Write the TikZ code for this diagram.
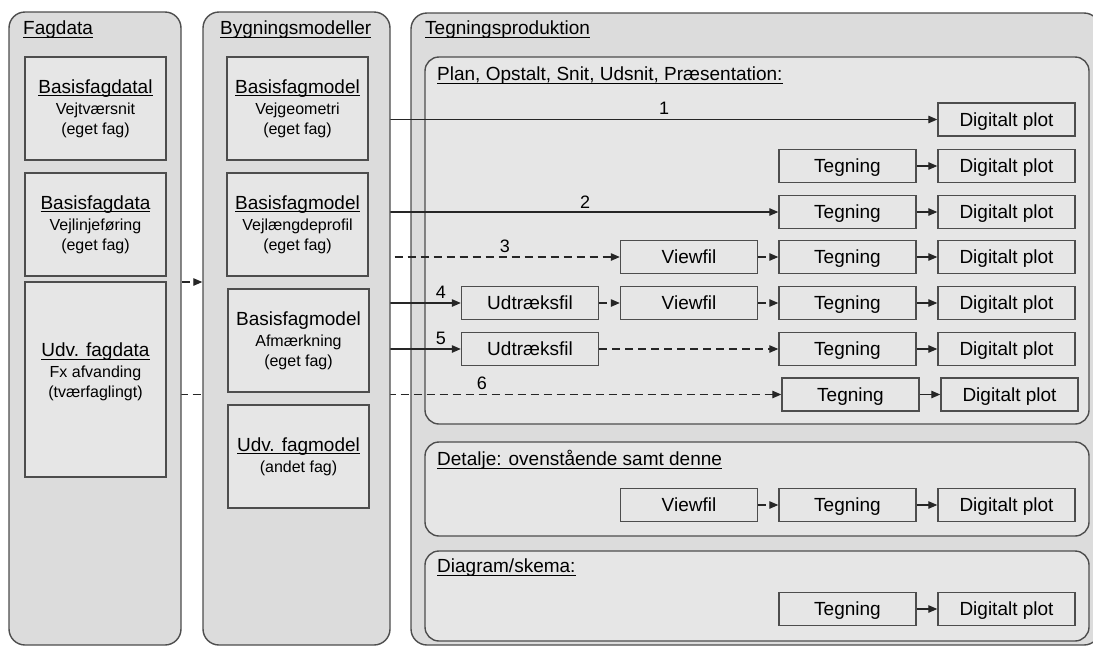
\documentclass[tikz,border=0pt]{standalone}
\usepackage{fontspec}
\setmainfont{Liberation Sans}
\usetikzlibrary{arrows.meta}
\pgfdeclarelayer{bg}
\pgfdeclarelayer{conn}
\pgfsetlayers{bg,conn,main}
\definecolor{panelfill}{HTML}{DCDCDC}
\definecolor{boxfill}{HTML}{E6E6E6}
\definecolor{edge}{HTML}{4D4D4D}
\newcommand{\myul}[1]{\leavevmode\setbox0=\hbox{#1}\rlap{\rule[-3pt]{\wd0}{1.1pt}}\box0}
\newcommand{\ttl}[1]{{\fontsize{19}{22}\selectfont\myul{#1}}}
\newcommand{\ttlplain}[1]{{\fontsize{19}{22}\selectfont #1}}
\tikzset{
 panel/.style={draw=edge, line width=1.4pt, fill=panelfill, rounded corners=16pt, inner sep=0pt},
 subpanel/.style={draw=edge, line width=1.4pt, fill=boxfill, rounded corners=14pt, inner sep=0pt},
 srcbox/.style={draw=edge, line width=1.4pt, fill=boxfill, inner sep=0pt, minimum width=141pt, minimum height=103pt, align=center, font=\fontsize{16}{20}\selectfont},
 srctext/.style={inner sep=0pt, align=center, font=\fontsize{16}{20}\selectfont},
 stepbox/.style={draw=edge, line width=1.4pt, fill=boxfill, inner sep=0pt, minimum width=137pt, minimum height=33pt, text height=13.6pt, text depth=0pt, font=\fontsize{19}{22}\selectfont},
 conn/.style={draw=black!85, line width=1.2pt, -{Triangle[length=9pt,width=7.5pt]}},
 dconn/.style={conn, dash pattern=on 8pt off 5pt},
 head/.style={anchor=west, inner sep=0pt, font=\fontsize{19}{22}\selectfont},
 num/.style={inner sep=0pt, font=\fontsize{18}{20}\selectfont},
}
\begin{document}
\begin{tikzpicture}[x=1pt,y=-1pt]
\useasboundingbox (0,0) rectangle (1093,646);

% Tegningsproduktion panels (background layer)
\begin{pgfonlayer}{bg}
\fill[white] (0,0) rectangle (1093,646);
\node[panel, minimum width=689pt, minimum height=632pt] (teg) at (755.5,329) {};
\node[subpanel, minimum width=664pt, minimum height=367pt] (plan) at (757,240.5) {};
\node[subpanel, minimum width=664pt, minimum height=94pt] (det) at (757,489) {};
\node[subpanel, minimum width=664pt, minimum height=90pt] (dia) at (757,596) {};
\end{pgfonlayer}

\node[head] (tegh) at (425,30) {\myul{Tegningsproduktion}};
\node[head] (planh) at (437,76) {\myul{Plan, Opstalt, Snit, Udsnit, Præsentation:}};
\node[head] (deth) at (437,460) {\myul{Detalje: ovenstående samt denne}};
\node[head] (diah) at (437,568) {\myul{Diagram/skema:}};

% Fagdata
\node[panel, minimum width=172pt, minimum height=633pt] (fag) at (95,328.5) {};
\node[head] (fagh) at (23,30) {\myul{Fagdata}};
\node[srcbox] (fd1) at (95.5,108.5) {\ttl{Basisfagdatal}\\[1pt]Vejtværsnit\\(eget fag)};
\node[srcbox] (fd2) at (95.5,224.5) {\ttl{Basisfagdata}\\[1pt]Vejlinjeføring\\(eget fag)};
\node[srcbox, minimum height=195pt] (fd3) at (95.5,379.5) {};
\node[srctext] (fd3t) at (95.5,372) {\ttl{Udv. fagdata}\\[1pt]Fx afvanding\\(tværfaglingt)};

% Bygningsmodeller
\node[panel, minimum width=187pt, minimum height=633pt] (byg) at (296.5,328.5) {};
\node[head] (bygh) at (220,30) {\myul{Bygningsmodeller}};
\node[srcbox] (bm1) at (297.5,108.5) {\ttl{Basisfagmodel}\\[1pt]Vejgeometri\\(eget fag)};
\node[srcbox] (bm2) at (297.5,224.5) {\ttl{Basisfagmodel}\\[1pt]Vejlængdeprofil\\(eget fag)};
\node[srcbox] (bm3) at (298.5,340.5) {\ttlplain{Basisfagmodel}\\[1pt]Afmærkning\\(eget fag)};
\node[srcbox] (bm4) at (298.5,456.5) {\ttl{Udv. fagmodel}\\[1pt](andet fag)};

% Step boxes
\node[stepbox] (dp1) at (1006.5,119.5) {Digitalt plot};
\node[stepbox] (t2) at (847.5,166) {Tegning};
\node[stepbox] (dp2) at (1006.5,166) {Digitalt plot};
\node[stepbox] (t3) at (847.5,212) {Tegning};
\node[stepbox] (dp3) at (1006.5,212) {Digitalt plot};
\node[stepbox] (v4) at (689,257) {Viewfil};
\node[stepbox] (t4) at (847.5,257) {Tegning};
\node[stepbox] (dp4) at (1006.5,257) {Digitalt plot};
\node[stepbox] (u5) at (530,303) {Udtræksfil};
\node[stepbox] (v5) at (689,303) {Viewfil};
\node[stepbox] (t5) at (847.5,303) {Tegning};
\node[stepbox] (dp5) at (1006.5,303) {Digitalt plot};
\node[stepbox] (u6) at (530,349) {Udtræksfil};
\node[stepbox] (t6) at (847.5,349) {Tegning};
\node[stepbox] (dp6) at (1006.5,349) {Digitalt plot};
\node[stepbox] (t7) at (850.5,394.5) {Tegning};
\node[stepbox] (dp7) at (1009.5,394.5) {Digitalt plot};
\node[stepbox] (v8) at (689,505) {Viewfil};
\node[stepbox] (t8) at (847.5,505) {Tegning};
\node[stepbox] (dp8) at (1006.5,505) {Digitalt plot};
\node[stepbox] (t9) at (847.5,609) {Tegning};
\node[stepbox] (dp9) at (1006.5,609) {Digitalt plot};

% Numbers
\node[num] (n1) at (664,108) {1};
\node[num] (n2) at (585,202) {2};
\node[num] (n3) at (505,246) {3};
\node[num] (n4) at (441,292) {4};
\node[num] (n5) at (441,338) {5};
\node[num] (n6) at (482,383) {6};

% Long connectors (under the Fagdata / Bygningsmodeller panels)
\begin{pgfonlayer}{conn}
\draw[conn] (bm1.east |- dp1.west) -- (dp1.west);
\draw[conn] (bm2.east |- t3.west) -- (t3.west);
\draw[dconn] (bm2.east |- v4.west) -- (v4.west);
\draw[conn] (bm3.east |- u5.west) -- (u5.west);
\draw[conn] (bm3.east |- u6.west) -- (u6.west);
\draw[dconn] (fd3.east |- t7.west) -- (t7.west);
\coordinate (fb) at (190,282);
\draw[dconn] (fag.east |- fb) -- (byg.west |- fb);
\end{pgfonlayer}

% Short connectors
\draw[conn] (t2) -- (dp2);
\draw[conn] (t3) -- (dp3);
\draw[dconn] (v4) -- (t4);
\draw[conn] (t4) -- (dp4);
\draw[dconn] (u5) -- (v5);
\draw[dconn] (v5) -- (t5);
\draw[conn] (t5) -- (dp5);
\draw[dconn] (u6) -- (t6);
\draw[conn] (t6) -- (dp6);
\draw[conn] (t7) -- (dp7);
\draw[dconn] (v8) -- (t8);
\draw[conn] (t8) -- (dp8);
\draw[conn] (t9) -- (dp9);
\end{tikzpicture}
\end{document}
